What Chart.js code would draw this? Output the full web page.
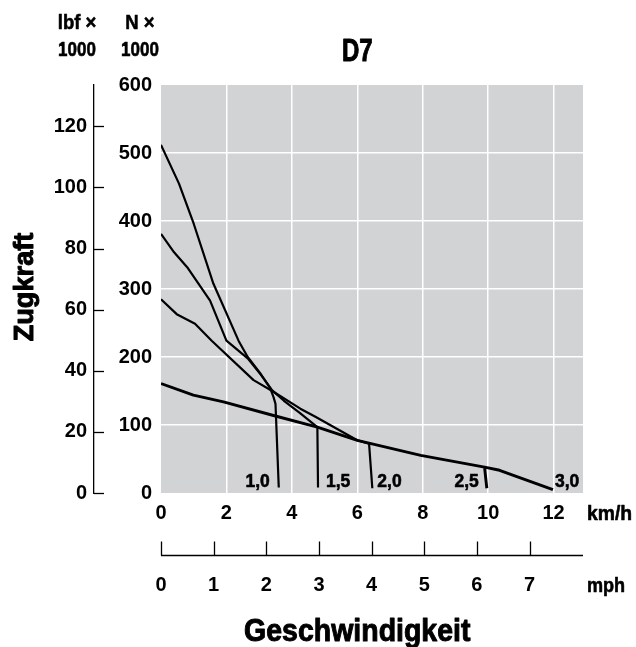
<!DOCTYPE html>
<html>
<head>
<meta charset="utf-8">
<script src="https://cdn.jsdelivr.net/npm/chart.js@4.4.1/dist/chart.umd.min.js"></script>
<style>
  html, body { margin: 0; padding: 0; background: #fff; }
  #c { display: block; }
</style>
</head>
<body>
<canvas id="c" width="636" height="647"></canvas>
<script>
// ====== Daten ======
const KMH_TICKS = [0, 2, 4, 6, 8, 10, 12];
const MPH_TICKS = [0, 1, 2, 3, 4, 5, 6, 7];
const N_TICKS = [0, 100, 200, 300, 400, 500, 600];
const LBF_TICKS = [0, 20, 40, 60, 80, 100, 120];
const KMH_MAX = 12.9;
const N_MAX = 600;
const LBF_MAX = 133.5;
const KMH_PER_MPH = 1.609344;

const GEARS = ['1,0', '1,5', '2,0', '2,5', '3,0'];

// Geschwindigkeit km/h, Zugkraft kN
const SPEED_10 = [0, 0.55, 1.0, 1.6, 2.37, 2.65, 3.05, 3.34, 3.44, 3.5, 3.6];
const FORCE_10 = [512, 455, 396, 308, 224, 200, 175, 154, 141, 131, 8];
const SPEED_15 = [0, 0.4, 0.8, 1.5, 2.0, 2.65, 3.05, 3.4, 3.75, 4.26, 4.78, 4.8];
const FORCE_15 = [381, 354, 332, 283, 224, 198, 174, 151, 136, 117, 97, 8];
const SPEED_20 = [0, 0.48, 1.04, 1.55, 2.83, 3.4, 4.26, 4.72, 6.0, 6.36, 6.46];
const FORCE_20 = [285, 263, 249, 224, 166, 150, 124, 112, 77.5, 72.6, 7];
const SPEED_25 = [0, 0.99, 1.91, 3.44, 4.78, 6.0, 7.94, 9.89, 9.96];
const FORCE_25 = [161, 144, 134, 114, 97, 77.5, 55.4, 38, 7];
const SPEED_30 = [9.89, 10.35, 11.98];
const FORCE_30 = [38, 33.4, 5];

const SPEEDS = [SPEED_10, SPEED_15, SPEED_20, SPEED_25, SPEED_30];
const FORCES = [FORCE_10, FORCE_15, FORCE_20, FORCE_25, FORCE_30];

// ====== Stil ======
const FONT = "'Liberation Sans', Arial, sans-serif";
const PLOT_BG = '#d2d3d5';
const GRID = '#ffffff';

// fetter Text, horizontal gestaucht (schmale Schrift nachbilden)
function txt(ctx, s, x, y, size, align, baseline, sx) {
  ctx.save();
  ctx.font = 'bold ' + size + 'px ' + FONT;
  ctx.fillStyle = '#000';
  ctx.strokeStyle = '#000';
  ctx.lineWidth = size > 25 ? 1 : 0.6;
  ctx.lineJoin = 'round';
  ctx.textAlign = align || 'center';
  ctx.textBaseline = baseline || 'middle';
  ctx.translate(x, y);
  ctx.scale(sx || 0.84, 1);
  ctx.fillText(s, 0, 0);
  ctx.strokeText(s, 0, 0);
  ctx.restore();
}

const decor = {
  id: 'decor',
  beforeDraw(chart) {
    const { ctx, chartArea: a } = chart;
    ctx.save();
    ctx.fillStyle = PLOT_BG;
    ctx.fillRect(a.left, a.top, a.right - a.left, a.bottom - a.top);
    ctx.restore();
  },
  afterDraw(chart) {
    const { ctx, chartArea: a } = chart;
    const x = chart.scales.x, mph = chart.scales.mph, lbf = chart.scales.lbf;

    // lbf-Striche (nach rechts)
    ctx.save();
    ctx.strokeStyle = '#000';
    ctx.lineWidth = 1.3;
    LBF_TICKS.forEach(v => {
      const py = Math.round(lbf.getPixelForValue(v)) + 0.5;
      ctx.beginPath();
      ctx.moveTo(lbf.right, py);
      ctx.lineTo(lbf.right + 10, py);
      ctx.stroke();
    });

    // mph-Achse: Linie mit Strichen nach oben
    const lineY = mph.top + 27.5;
    ctx.beginPath();
    ctx.moveTo(mph.getPixelForValue(0), lineY);
    ctx.lineTo(a.right, lineY);
    ctx.stroke();
    MPH_TICKS.forEach(v => {
      const px = Math.round(mph.getPixelForValue(v)) + 0.5;
      ctx.beginPath();
      ctx.moveTo(px, lineY);
      ctx.lineTo(px, lineY - 14);
      ctx.stroke();
    });
    ctx.restore();

    // Kopf
    const mid = x.getPixelForValue((KMH_TICKS[0] + KMH_TICKS[KMH_TICKS.length - 1]) / 2);
    txt(ctx, 'lbf ×', 77, 23, 21, 'center', 'middle', 0.88);
    txt(ctx, '1000', 77, 50, 21, 'center', 'middle', 0.81);
    txt(ctx, 'N ×', 140, 23, 21, 'center', 'middle', 0.88);
    txt(ctx, '1000', 140, 50, 21, 'center', 'middle', 0.81);
    txt(ctx, 'D7', mid, 52, 32, 'center', 'middle', 0.75);

    // Einheiten
    txt(ctx, 'km/h', a.right + 4, x.top + 21, 21, 'left', 'middle', 0.92);
    txt(ctx, 'mph', a.right + 4, mph.top + 58, 21, 'left', 'middle', 0.86);

    // Achsentitel
    txt(ctx, 'Geschwindigkeit', mid, 641, 32, 'center', 'alphabetic', 0.89);
    ctx.save();
    ctx.translate(25, (a.top + a.bottom) / 2 - 2);
    ctx.rotate(-Math.PI / 2);
    txt(ctx, 'Zugkraft', 0, 0, 28, 'center', 'middle', 0.97);
    ctx.restore();

    // Gangbeschriftungen am Kurvenende
    const lab = { '1,0': [-9, 'right'], '1,5': [8, 'left'], '2,0': [5, 'left'], '2,5': [-8, 'right'], '3,0': [2, 'left'] };
    chart.data.datasets.forEach(ds => {
      const last = ds.data[ds.data.length - 1];
      const px = x.getPixelForValue(last.x);
      const [dx, al] = lab[ds.label];
      txt(ctx, ds.label, px + dx, a.bottom - 6, 19, al, 'alphabetic', 0.92);
    });
  }
};

const tickFont = { family: FONT, size: 20, weight: 'bold' };
const hideEdge = (lo, hi) => c => (c.tick && (c.tick.value === lo || c.tick.value === hi)) ? 'rgba(0,0,0,0)' : GRID;

new Chart(document.getElementById('c'), {
  type: 'line',
  data: {
    datasets: GEARS.map((g, i) => ({
      label: g,
      data: SPEEDS[i].map((s, j) => ({ x: s, y: FORCES[i][j] })),
      borderColor: '#000',
      borderWidth: i >= 3 ? 2.9 : 2.2,
      borderJoinStyle: 'round',
      pointRadius: 0,
      tension: 0,
      fill: false
    }))
  },
  options: {
    responsive: false,
    animation: false,
    events: [],
    layout: { padding: { top: 85, right: 53, bottom: 49, left: 0 } },
    plugins: { legend: { display: false }, tooltip: { enabled: false }, title: { display: false } },
    scales: {
      x: {
        type: 'linear', position: 'bottom', weight: 0,
        min: 0, max: KMH_MAX,
        afterBuildTicks: s => { s.ticks = KMH_TICKS.map(v => ({ value: v })); },
        afterFit: s => { s.height = 35; },
        grid: { color: hideEdge(0, -1), lineWidth: 1.5, drawTicks: false },
        border: { display: false },
        ticks: { font: tickFont, color: '#000', padding: 8, maxRotation: 0 }
      },
      mph: {
        type: 'linear', position: 'bottom', weight: 1,
        min: 0, max: KMH_MAX / KMH_PER_MPH,
        afterBuildTicks: s => { s.ticks = MPH_TICKS.map(v => ({ value: v })); },
        afterFit: s => { s.height = 70; },
        grid: { display: false, drawTicks: false },
        border: { display: false },
        ticks: { font: tickFont, color: '#000', padding: 45, maxRotation: 0 }
      },
      y: {
        type: 'linear', position: 'left', weight: 0,
        min: 0, max: N_MAX,
        afterBuildTicks: s => { s.ticks = N_TICKS.map(v => ({ value: v })); },
        afterFit: s => { s.width = 67; },
        grid: { color: hideEdge(0, N_MAX), lineWidth: 1.5, drawTicks: false },
        border: { display: false },
        ticks: { font: tickFont, color: '#000', padding: 9 }
      },
      lbf: {
        type: 'linear', position: 'left', weight: 1,
        min: 0, max: LBF_MAX,
        afterBuildTicks: s => { s.ticks = LBF_TICKS.map(v => ({ value: v })); },
        afterFit: s => { s.width = 94; },
        grid: { display: false, drawTicks: false },
        border: { display: true, color: '#000', width: 1.3 },
        ticks: { font: tickFont, color: '#000', padding: 7 }
      }
    }
  },
  plugins: [decor]
});
</script>
</body>
</html>
